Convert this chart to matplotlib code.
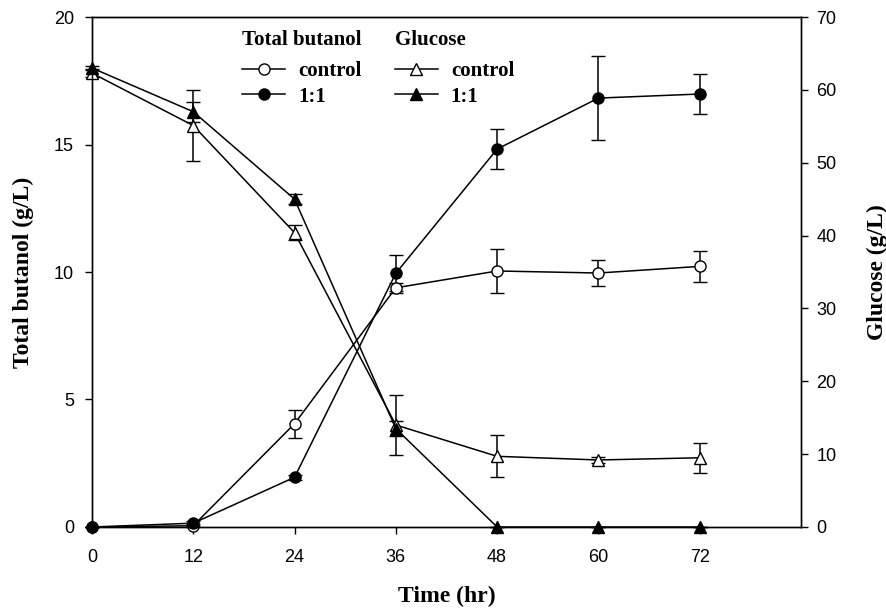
import matplotlib.pyplot as plt
from matplotlib.lines import Line2D

time = [0, 12, 24, 36, 48, 60, 72]

# total butanol (g/L), left axis
but_ctrl = [0.0, 0.05, 4.05, 9.38, 10.04, 9.96, 10.22]
but_ctrl_err = [0.0, 0.05, 0.55, 0.2, 0.85, 0.5, 0.6]
but_11 = [0.0, 0.15, 1.95, 9.95, 14.82, 16.82, 16.98]
but_11_err = [0.0, 0.1, 0.1, 0.7, 0.8, 1.65, 0.77]

# glucose (g/L), right axis
glu_ctrl = [62.3, 55.1, 40.4, 14.0, 9.7, 9.2, 9.5]
glu_ctrl_err = [0.5, 4.9, 1.0, 4.1, 2.9, 0.4, 2.05]
glu_11 = [63.0, 57.0, 45.0, 13.5, 0.0, 0.0, 0.0]
glu_11_err = [0.3, 1.4, 0.7, 1.0, 0.0, 0.0, 0.0]

plt.rcParams['font.family'] = ['Liberation Sans', 'DejaVu Sans']
serif_bold = {'family': 'Liberation Serif', 'weight': 'bold', 'size': 17}

fig = plt.figure(figsize=(8.87, 6.14), dpi=100)
ax = fig.add_axes([0.1037, 0.1417, 0.7993, 0.8306])
ax2 = ax.twinx()

common = dict(color='black', lw=1.1, capsize=5, elinewidth=1.1, capthick=1.1,
              markeredgewidth=1.0, markeredgecolor='black')
ax.errorbar(time, but_ctrl, yerr=but_ctrl_err, fmt='-o', markersize=8,
            markerfacecolor='white', **common)
ax.errorbar(time, but_11, yerr=but_11_err, fmt='-o', markersize=8,
            markerfacecolor='black', **common)
ax2.errorbar(time, glu_ctrl, yerr=glu_ctrl_err, fmt='-^', markersize=8.5,
             markerfacecolor='white', **common)
ax2.errorbar(time, glu_11, yerr=glu_11_err, fmt='-^', markersize=8.5,
             markerfacecolor='black', **common)

for a in (ax, ax2):
    a.set_xlim(0, 84)
    a.tick_params(direction='out', length=5, width=1, labelsize=13)
    for s in a.spines.values():
        s.set_linewidth(1.0)
        s.set_clip_on(False)
    for ln in a.lines:
        ln.set_clip_on(False)
ax.tick_params(axis='x', pad=11)
ax.tick_params(axis='y', pad=8)
ax2.tick_params(axis='y', pad=6)

ax.set_ylim(0, 20)
ax.set_yticks([0, 5, 10, 15, 20])
ax2.set_ylim(0, 70)
ax2.set_yticks(range(0, 71, 10))
ax.set_xticks(time)

ax.set_xlabel('Time (hr)', fontdict=serif_bold, labelpad=14)
ax.set_ylabel('Total butanol (g/L)', fontdict=serif_bold, labelpad=14)
ax2.set_ylabel('Glucose (g/L)', fontdict=serif_bold, labelpad=22)

def handle(marker, face, ms):
    return Line2D([], [], color='black', lw=1.1, marker=marker, markersize=ms,
                  markerfacecolor=face, markeredgecolor='black')

leg_font = {'family': 'Liberation Serif', 'weight': 'bold', 'size': 15}
for a, mk, ms, title, x0 in [(ax, 'o', 8, 'Total butanol', 0.2116),
                             (ax2, '^', 8.5, 'Glucose', 0.427)]:
    leg = a.legend([handle(mk, 'white', ms), handle(mk, 'black', ms)], ['control', '1:1'],
                   title=title, title_fontproperties=leg_font, prop=leg_font,
                   frameon=False, loc='upper left', bbox_to_anchor=(x0, 0.974),
                   handlelength=2.07, handletextpad=0.62, labelspacing=0.25,
                   borderaxespad=0, borderpad=0)
    leg._legend_box.align = 'left'
    leg._legend_box.sep = 8

fig.savefig('out.png', dpi=100)
